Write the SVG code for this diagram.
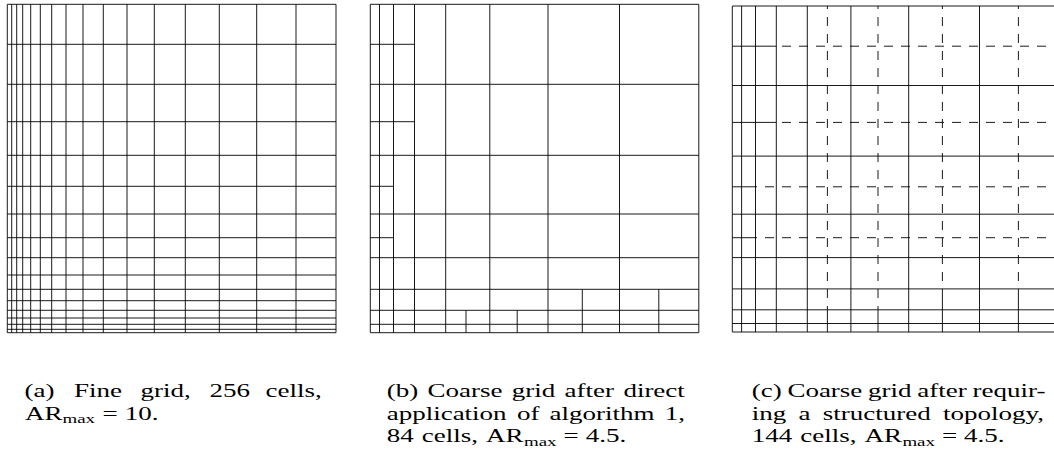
<svg xmlns="http://www.w3.org/2000/svg" width="1054" height="462" viewBox="0 0 1054 462">
<style>
.g{fill:none;stroke:#000;stroke-width:0.9}
.d{stroke-dasharray:9 8}
.cap{font-family:"Liberation Serif","Times New Roman",serif;font-size:18px;fill:#000}
.sub{font-size:12.6px}
</style>
<rect width="1054" height="462" fill="#fff"/>
<g id="panel-a" class="g">
<path d="M7.3 4.3V332.7M11.7 4.3V332.7M16.7 4.3V332.7M22.7 4.3V332.7M30.7 4.3V332.7M40.3 4.3V332.7M51.7 4.3V332.7M66 4.3V332.7M83 4.3V332.7M103.3 4.3V332.7M127 4.3V332.7M154.3 4.3V332.7M185.3 4.3V332.7M219.3 4.3V332.7M256.7 4.3V332.7M296 4.3V332.7M336 4.3V332.7"/>
<path d="M7.3 4.3H336M7.3 44.3H336M7.3 84.3H336M7.3 121.7H336M7.3 155.3H336M7.3 186.3H336M7.3 214H336M7.3 237.7H336M7.3 257.7H336M7.3 275H336M7.3 289.3H336M7.3 300.7H336M7.3 310.3H336M7.3 318H336M7.3 324.3H336M7.3 329.3H336M7.3 332.7H336"/>
</g>
<g id="panel-b" class="g">
<path d="M370.3 4.3V332.7M379.5 4.3V332.7M393.5 4.3V332.7M414.5 4.3V332.7M445.7 4.3V332.7M489.8 4.3V332.7M548 4.3V332.7M619.5 4.3V332.7M698.8 4.3V332.7"/>
<path d="M466 310.3V332.7M517.2 310.3V332.7M582.3 289.3V332.7M658.8 289.3V332.7"/>
<path d="M370.3 4.3H698.8M370.3 84.3H698.8M370.3 155.3H698.8M370.3 214H698.8M370.3 257.7H698.8M370.3 289.3H698.8M370.3 310.3H698.8M370.3 324.3H698.8M370.3 332.7H698.8"/>
<path d="M370.3 44.3H414.5M370.3 121.7H414.5M370.3 186.3H393.5M370.3 237.7H393.5"/>
</g>
<g id="panel-c" class="g">
<path d="M732.3 6V332M741.6 6V332M755.5 6V332M776.3 6V332M807.3 6V332M850.9 6V332M908.7 6V332M979.5 6V332"/>
<path d="M827.4 309.8V332M878 309.8V332M942.4 288.9V332M1018.4 288.9V332"/>
<path d="M732.3 6H1058M732.3 85.5H1058M732.3 156.1H1058M732.3 214.2H1058M732.3 257.6H1058M732.3 288.9H1058M732.3 309.8H1058M732.3 323.5H1058M732.3 332H1058"/>
<path d="M732.3 46.2H776.3M732.3 122.4H776.3M732.3 186.8H755.5M732.3 237.7H755.5"/>
<g class="d">
<path d="M827.4 6V309.8M878 6V309.8" stroke-dashoffset="6"/>
<path d="M942.4 6V288.9M1018.4 6V288.9" stroke-dashoffset="6"/>
<path d="M776.3 46.2H1058M776.3 122.4H1058" stroke-dashoffset="776.3"/>
<path d="M755.5 186.8H1058M755.5 237.7H1058" stroke-dashoffset="755.5"/>
</g>
</g>
<g id="caption-a" class="cap" transform="scale(1.5,1)">
<text y="397.5"><tspan x="16.33">(a)</tspan><tspan x="49.33">Fine</tspan><tspan x="93.67">grid,</tspan><tspan x="139.67">256</tspan><tspan x="177.07">cells,</tspan></text>
<text y="420"><tspan x="16.67">AR</tspan><tspan class="sub" x="41.67" y="423.5">max</tspan><tspan x="68.33" y="420">=</tspan><tspan x="83.13">10.</tspan></text>
</g>
<g id="caption-b" class="cap" transform="scale(1.5,1)">
<text y="397.5"><tspan x="257.8">(b)</tspan><tspan x="285">Coarse</tspan><tspan x="341.2">grid</tspan><tspan x="376.4">after</tspan><tspan x="415.6">direct</tspan></text>
<text y="420"><tspan x="257.8">application</tspan><tspan x="344.6">of</tspan><tspan x="366.4">algorithm</tspan><tspan x="443.2">1,</tspan></text>
<text y="442.5"><tspan x="257.8">84</tspan><tspan x="281.13">cells,</tspan><tspan x="324">AR</tspan><tspan class="sub" x="349.33" y="446">max</tspan><tspan x="375.67" y="442.5">=</tspan><tspan x="390.47">4.5.</tspan></text>
</g>
<g id="caption-c" class="cap" transform="scale(1.5,1)">
<text y="397.5"><tspan x="501.13">(c)</tspan><tspan x="524.93">Coarse</tspan><tspan x="578.73">grid</tspan><tspan x="611.53">after</tspan><tspan x="648.33">requir-</tspan></text>
<text y="420"><tspan x="501.13">ing</tspan><tspan x="532.33">a</tspan><tspan x="548.53">structured</tspan><tspan x="628.73">topology,</tspan></text>
<text y="442.5"><tspan x="501.13">144</tspan><tspan x="533.47">cells,</tspan><tspan x="576.27">AR</tspan><tspan class="sub" x="601.6" y="446">max</tspan><tspan x="627.93" y="442.5">=</tspan><tspan x="642.73">4.5.</tspan></text>
</g>
</svg>
